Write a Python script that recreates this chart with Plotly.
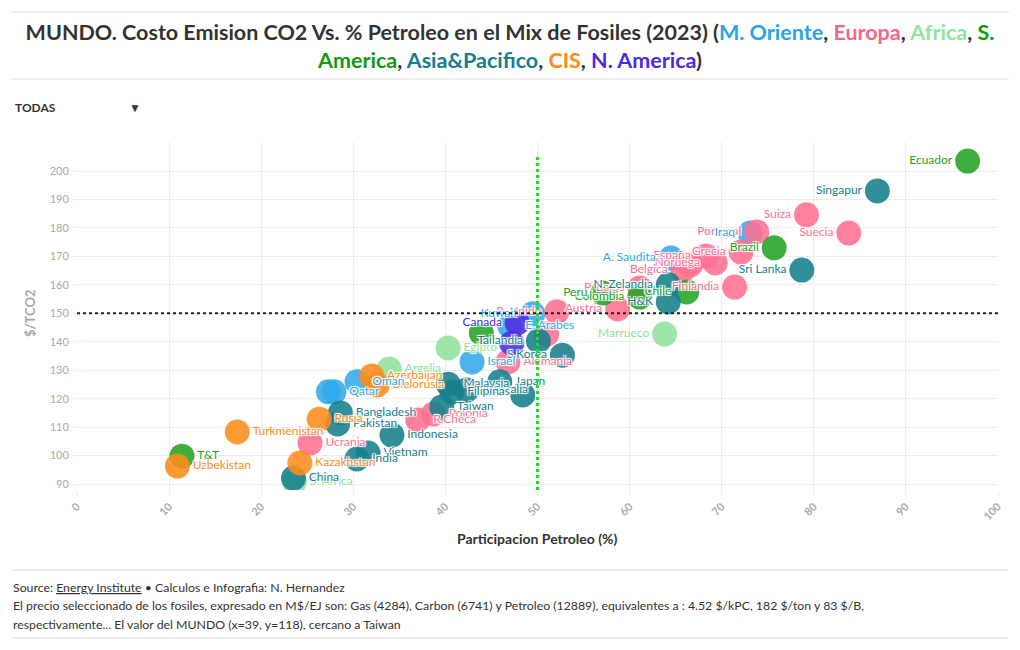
import plotly.graph_objects as go

# ---------------- DATA ----------------
regions = ["M. Oriente", "Europa", "Africa", "S. America", "Asia&Pacifico", "CIS", "N. America"]
region_colors = ["#33a8ea", "#ff6f91", "#8fe39c", "#23a323", "#16808c", "#ff8c1a", "#4c2ee0"]
title_colors = ["#2aa4e6", "#f4668a", "#8de49b", "#109a10", "#13808c", "#ff8a14", "#4a2be0"]

mo_names = ["Iraq", "A. Saudita", "Kuwait", "E. Arabes", "Israel", "Oman", "Qatar", "Iran"]
mo_x = [73.1, 64.5, 49.5, 47.0, 42.9, 30.4, 27.9, 27.3]
mo_y = [178.2, 169.4, 149.8, 145.5, 132.9, 125.9, 122.4, 122.4]
mo_show = [1, 1, 1, 1, 1, 1, 1, 0]

eu_names = ["Portugal", "Suiza", "Suecia", "Grecia", "España", "Noruega", "Irlanda", "Belgica",
            "Finlandia", "P. Bajos", "Austria", "R. Unido", "Italia", "Alemania", "Polonia",
            "R.Checa", "Ucrania"]
eu_x = [73.8, 79.2, 83.8, 72.1, 68.3, 69.3, 66.6, 65.8, 71.4, 61.1, 58.7, 52.1, 51.0, 46.8, 38.7, 37.0, 25.3]
eu_y = [178.6, 184.6, 178.2, 171.5, 170.1, 167.7, 167.0, 165.2, 159.2, 158.9, 151.5, 150.5, 142.7, 132.9, 114.6, 112.5, 104.4]
eu_show = [1, 1, 1, 1, 1, 1, 0, 1, 1, 1, 1, 1, 0, 1, 1, 1, 1]

af_names = ["Marrueco", "Egipto", "Argelia", "S. Africa"]
af_x = [63.8, 40.3, 33.9, 23.6]
af_y = [142.7, 137.8, 130.4, 90.7]
af_show = [1, 1, 1, 1]

sa_names = ["Ecuador", "Brazil", "Chile", "Colombia", "Peru", "Argentina", "T&T"]
sa_x = [96.7, 75.7, 66.2, 61.1, 57.1, 43.9, 11.4]
sa_y = [203.5, 173.0, 157.5, 155.7, 157.1, 143.1, 99.8]
sa_show = [1, 1, 1, 1, 1, 0, 1]

ap_names = ["Singapur", "Sri Lanka", "N. Zelandia", "H&K", "S.Korea", "Tailandia", "Japan",
            "Australia", "Malaysia", "Filipinas", "Taiwan", "Otros Asia Pacifico", "Indonesia",
            "Bangladesh", "Pakistan", "Vietnam", "India", "China"]
ap_x = [86.9, 78.7, 64.2, 64.2, 52.7, 50.1, 45.9, 42.3, 40.3, 40.7, 39.6, 48.4, 34.2, 28.6, 28.3, 31.6, 30.4, 23.5]
ap_y = [193.0, 165.2, 160.0, 154.0, 135.3, 140.3, 125.9, 123.0, 125.1, 122.3, 117.1, 121.3, 107.2, 115.0, 111.1, 100.9, 98.8, 92.1]
ap_show = [1, 1, 1, 1, 1, 1, 1, 1, 1, 1, 1, 0, 1, 1, 1, 1, 1, 1]

cis_names = ["Azerbaijan", "Bielorusia", "Rusia", "Turkmenistan", "Kazakhstan", "Uzbekistan"]
cis_x = [32.0, 32.6, 26.3, 17.4, 24.2, 10.9]
cis_y = [128.0, 124.8, 112.8, 108.3, 97.4, 96.3]
cis_show = [1, 1, 1, 1, 1, 1]

na_names = ["Canada", "EE.UU."]
na_x = [47.8, 47.2]
na_y = [146.6, 139.5]
na_show = [1, 0]

x_ticks = [0, 10, 20, 30, 40, 50, 60, 70, 80, 90, 100]
y_ticks = [90, 100, 110, 120, 130, 140, 150, 160, 170, 180, 190, 200]
ref_x = 50
ref_y = 150

groups = [
    (mo_names, mo_x, mo_y, mo_show),
    (eu_names, eu_x, eu_y, eu_show),
    (af_names, af_x, af_y, af_show),
    (sa_names, sa_x, sa_y, sa_show),
    (ap_names, ap_x, ap_y, ap_show),
    (cis_names, cis_x, cis_y, cis_show),
    (na_names, na_x, na_y, na_show),
]

# label placement (style): left of the marker beyond this x, with a few exceptions
label_side_limit = 49
force_left = {"Canada"}
force_right = set()

FONT = "Lato"
MSIZE = 25
fig = go.Figure()

# marker traces
for reg, col, (nm, xs, ys, sh) in zip(regions, region_colors, groups):
    fig.add_trace(go.Scatter(
        x=xs, y=ys, mode="markers", name=reg,
        marker=dict(size=MSIZE, color=col, opacity=0.88, line=dict(width=0)),
        text=nm,
        hovertemplate="<b>%{text}</b><br>Petroleo: %{x:.1f}%<br>%{y:.0f} $/TCO2<extra>" + reg + "</extra>",
        showlegend=False,
    ))

halo = "1px 1px 1px #fff, -1px -1px 1px #fff, 1px -1px 1px #fff, -1px 1px 1px #fff, 0 0 2px #fff"

def side(name, xv):
    if name in force_left:
        return "middle left"
    if name in force_right:
        return "middle right"
    return "middle left" if xv > label_side_limit else "middle right"

# label traces (drawn above all markers); invisible markers give the label offset
label_order = [1, 2, 3, 4, 5, 6, 0]
for i in label_order:
    reg, col = regions[i], region_colors[i]
    nm, xs, ys, sh = groups[i]
    labels = [a if s else "" for a, s in zip(nm, sh)]
    pos = [side(a, xv) for a, xv in zip(nm, xs)]
    fig.add_trace(go.Scatter(
        x=xs, y=ys, mode="markers+text", text=labels, textposition=pos,
        marker=dict(size=MSIZE - 2, color=col, opacity=0),
        textfont=dict(family=FONT, size=12, color=col, shadow=halo),
        hoverinfo="skip", showlegend=False, name=reg,
    ))

n = len(regions)
pad = "\u00a0" * 20
buttons = [dict(label="<b>TODAS</b>" + pad, method="update", args=[{"visible": [True] * (2 * n)}])]
for i, reg in enumerate(regions):
    vis = [j == i for j in range(n)] + [j == i for j in label_order]
    buttons.append(dict(label="<b>" + reg + "</b>", method="update", args=[{"visible": vis}]))

title_parts = [f"<span style='color:{c}'>{r}</span>" for r, c in zip(regions, title_colors)]
title_parts[3] = f"<span style='color:{title_colors[3]}'>S.</span><br><span style='color:{title_colors[3]}'>America</span>"
title_text = ("<b>MUNDO. Costo Emision CO2 Vs. % Petroleo en el Mix de Fosiles (2023) ("
              + ", ".join(title_parts) + ")</b>")

# plot area: x 77..998 px, y 142..490 px
L, R, T, B = 77, 22, 142, 160
PW, PH = 1020 - L - R, 650 - T - B
def px(xp):
    return (xp - L) / PW
def py(yp):
    return (650 - B - yp) / PH

fig.update_layout(
    width=1020, height=650,
    margin=dict(l=L, r=R, t=T, b=B, autoexpand=False),
    paper_bgcolor="white", plot_bgcolor="white",
    font=dict(family=FONT, color="#333"),
    title=dict(text=title_text, x=0.5, xanchor="center", y=1 - 40 / 650, yanchor="top",
               font=dict(family=FONT, size=21.5, color="#333")),
    xaxis=dict(range=[0, 100], tickvals=x_ticks, tickangle=-45,
               tickfont=dict(family=FONT, size=11, color="#aaa", weight="bold"),
               showgrid=True, gridcolor="#ececec", gridwidth=1, zeroline=False,
               showline=False, ticks="outside", ticklen=5, tickcolor="#ececec"),
    yaxis=dict(range=[87.9, 210.2], tickvals=y_ticks,
               tickfont=dict(family=FONT, size=11, color="#aaa"),
               showgrid=True, gridcolor="#ececec", gridwidth=1, zeroline=False,
               showline=False, ticks="outside", ticklen=5, tickcolor="#ececec"),
    hoverlabel=dict(font=dict(family=FONT)),
    updatemenus=[dict(
        type="dropdown", buttons=buttons, active=0, showactive=True,
        x=px(3), xanchor="left", y=py(92), yanchor="top",
        bgcolor="white", bordercolor="white", borderwidth=0,
        font=dict(family=FONT, size=12, color="#333"),
        pad=dict(l=0, r=0, t=0, b=0),
    )],
)

# reference lines
fig.add_shape(type="line", xref="x", yref="y", x0=0, x1=100, y0=ref_y, y1=ref_y,
              line=dict(color="#222", width=2, dash="dot"))
fig.add_shape(type="line", xref="x", yref="y", x0=ref_x, x1=ref_x, y0=87.9, y1=205.5,
              line=dict(color="#22dd22", width=3, dash="dot"))

# separators
for yp in (12, 79, 570, 638):
    fig.add_shape(type="line", xref="paper", yref="paper", x0=px(11), x1=px(1009),
                  y0=py(yp), y1=py(yp), line=dict(color="#dddddd", width=1))
fig.add_shape(type="line", xref="paper", yref="paper", x0=px(11), x1=px(145),
              y0=py(121), y1=py(121), line=dict(color="#cccccc", width=1))

# axis titles
fig.add_annotation(text="<b>Participacion Petroleo (%)</b>", xref="paper", yref="paper",
                   x=0.5, y=py(538), xanchor="center", yanchor="middle", showarrow=False,
                   font=dict(family=FONT, size=14, color="#333"))
fig.add_annotation(text="<b>$/TCO2</b>", xref="paper", yref="paper", textangle=-90,
                   x=px(30), y=py(313), xanchor="center", yanchor="middle", showarrow=False,
                   font=dict(family=FONT, size=13, color="#aaa"))

# footer
footer = [
    "Source: <a href='https://www.energyinst.org/statistical-review' style='color:#333;text-decoration:underline'>Energy Institute</a> • Calculos e Infografia: N. Hernandez",
    "El precio seleccionado de los fosiles, expresado en M$/EJ son: Gas (4284), Carbon (6741) y Petroleo (12889), equivalentes a : 4.52 $/kPC, 182 $/ton y 83 $/B,",
    "respectivamente... El valor del MUNDO (x=39, y=118), cercano a Taiwan",
]
for line, yp in zip(footer, (587, 605.5, 624)):
    fig.add_annotation(text=line, xref="paper", yref="paper", x=px(11), y=py(yp),
                       xanchor="left", yanchor="middle", showarrow=False,
                       font=dict(family=FONT, size=12.3, color="#333"))

fig.write_html("out.html", config={"displayModeBar": False},
               post_script="document.body.style.margin='0';")
